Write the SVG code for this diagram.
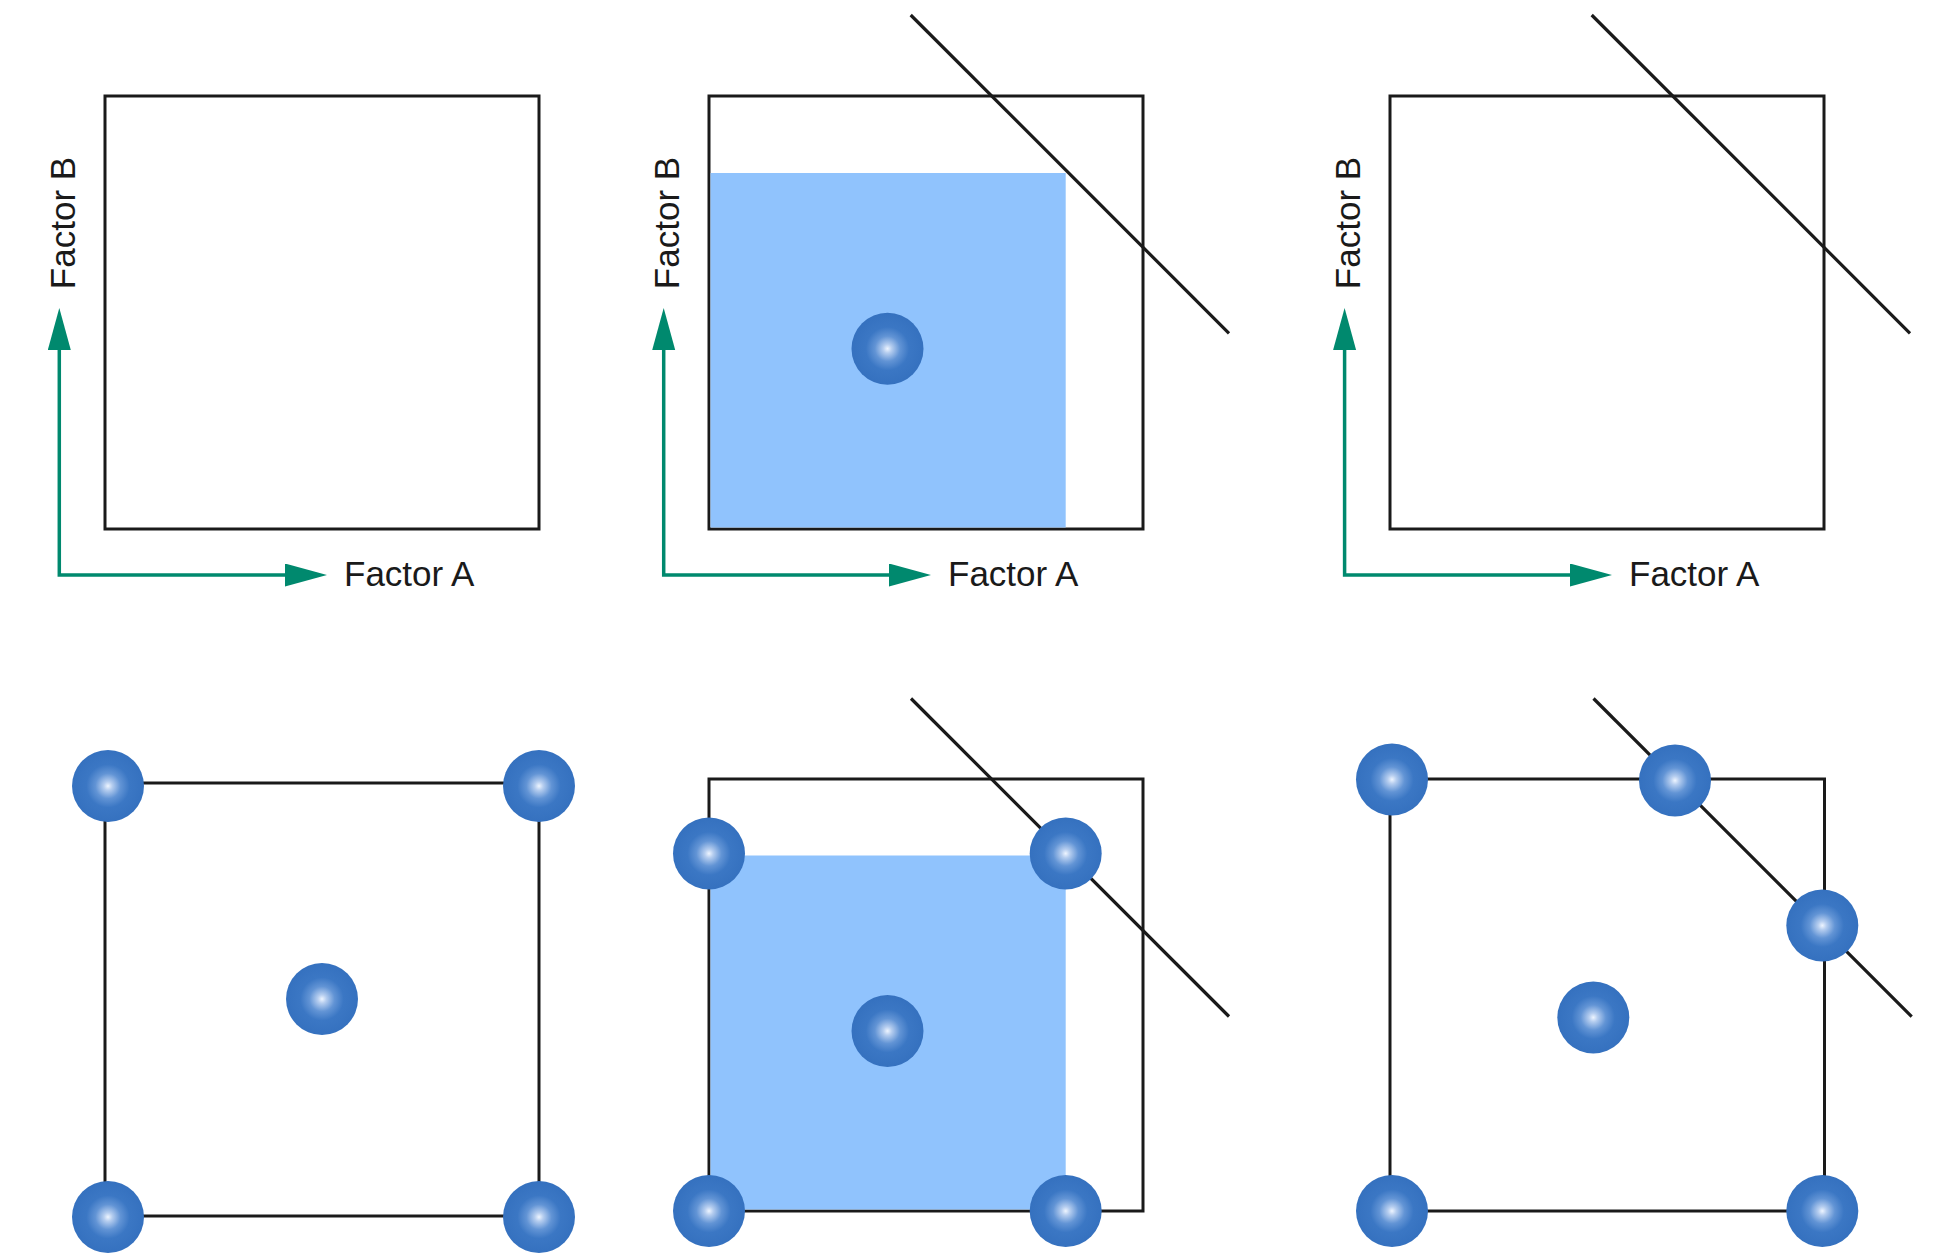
<svg xmlns="http://www.w3.org/2000/svg" width="1942" height="1254" viewBox="0 0 1942 1254">
<style>
.box{fill:none;stroke:#1a1a1a;stroke-width:3}
.diag{stroke:#1a1a1a;stroke-width:3.2;fill:none}
.fill{fill:#90c3fd}
.axis{fill:none;stroke:#00896e;stroke-width:3.5;stroke-linejoin:miter}
.lbl{font-family:"Liberation Sans",Arial,sans-serif;font-size:35px;fill:#1a1a1a}
.sph{fill:url(#sg)}
</style>
<defs>
<radialGradient id="sg" cx="0.5" cy="0.5" r="0.5">
<stop offset="0" stop-color="#eef5ff"/>
<stop offset="0.12" stop-color="#b5cdef"/>
<stop offset="0.35" stop-color="#6294d5"/>
<stop offset="0.6" stop-color="#3b77c4"/>
<stop offset="1" stop-color="#3571bf"/>
</radialGradient>
<marker id="ah" markerUnits="userSpaceOnUse" markerWidth="44" markerHeight="24" refX="0" refY="11.5" orient="auto-start-reverse" viewBox="0 0 44 24">
<path d="M0,0 L42,11.5 L0,23 z" fill="#00896e"/>
</marker>
</defs>
<rect width="1942" height="1254" fill="#ffffff"/>

<g id="panel-1">
<rect class="box" x="105" y="96" width="434" height="433"/>
<path class="axis" d="M59.3,350 V575 H285" marker-start="url(#ah)" marker-end="url(#ah)"/>
<text class="lbl" x="344" y="586">Factor A</text>
<text class="lbl" text-anchor="middle" transform="translate(75,223) rotate(-90)">Factor B</text>
</g>

<g id="panel-2">
<rect class="box" x="709" y="96" width="434" height="433"/>
<rect class="fill" x="710.5" y="173" width="355.2" height="354.5"/>
<path class="axis" d="M663.7,350 V575 H889" marker-start="url(#ah)" marker-end="url(#ah)"/>
<text class="lbl" x="948" y="586">Factor A</text>
<text class="lbl" text-anchor="middle" transform="translate(679,223) rotate(-90)">Factor B</text>
<circle class="sph" cx="887.5" cy="348.7" r="36"/>
</g>

<g id="panel-3">
<rect class="box" x="1390" y="96" width="434" height="433"/>
<path class="axis" d="M1344.6,350 V575 H1570" marker-start="url(#ah)" marker-end="url(#ah)"/>
<text class="lbl" x="1629" y="586">Factor A</text>
<text class="lbl" text-anchor="middle" transform="translate(1360,223) rotate(-90)">Factor B</text>
</g>

<g id="panel-4">
<rect class="box" x="105" y="783" width="434" height="433"/>
<circle class="sph" cx="108" cy="786" r="36"/>
<circle class="sph" cx="539" cy="786" r="36"/>
<circle class="sph" cx="108" cy="1217" r="36"/>
<circle class="sph" cx="539" cy="1217" r="36"/>
<circle class="sph" cx="322" cy="999" r="36"/>
</g>

<g id="panel-5">
<rect class="box" x="709" y="779" width="434" height="432"/>
<rect class="fill" x="710.5" y="855.5" width="355.2" height="354"/>
</g>

<g id="panel-6">
<rect class="box" x="1390" y="779" width="434.5" height="432"/>
</g>

<g id="connectors">
<line class="diag" x1="910.7" y1="15" x2="1229" y2="333.3"/>
<line class="diag" x1="1591.7" y1="15" x2="1910" y2="333.3"/>
<line class="diag" x1="911" y1="698.5" x2="1229" y2="1016.5"/>
<line class="diag" x1="1593.5" y1="698.5" x2="1911.7" y2="1016.7"/>
</g>

<g id="panel-5-points">
<circle class="sph" cx="709" cy="853.5" r="36"/>
<circle class="sph" cx="1065.7" cy="853.5" r="36"/>
<circle class="sph" cx="709" cy="1211" r="36"/>
<circle class="sph" cx="1065.7" cy="1211" r="36"/>
<circle class="sph" cx="887.5" cy="1031" r="36"/>
</g>

<g id="panel-6-points">
<circle class="sph" cx="1392" cy="779.5" r="36"/>
<circle class="sph" cx="1675" cy="780.5" r="36"/>
<circle class="sph" cx="1822.3" cy="925.5" r="36"/>
<circle class="sph" cx="1392" cy="1211" r="36"/>
<circle class="sph" cx="1822.3" cy="1211" r="36"/>
<circle class="sph" cx="1593.3" cy="1017.5" r="36"/>
</g>
</svg>
